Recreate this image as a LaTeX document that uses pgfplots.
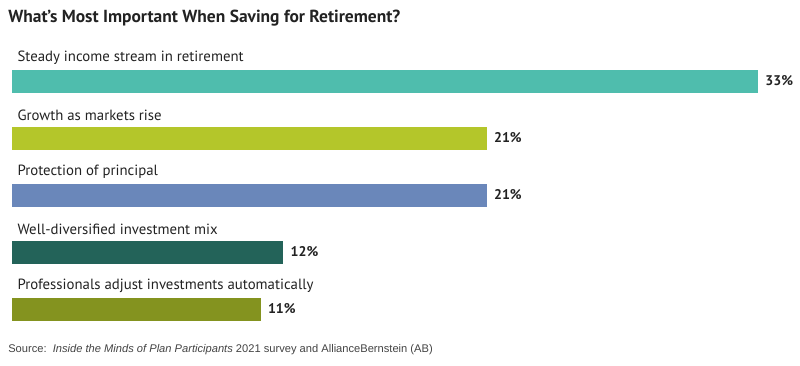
\documentclass[border=0pt]{standalone}
\usepackage{pgfplots}
\pgfplotsset{compat=1.18}
\usepackage{fontspec}
\setmainfont{PT Sans}
\newfontfamily\srcfont{Liberation Sans}
\definecolor{c1}{HTML}{4FBDAD}
\definecolor{c2}{HTML}{B4C62A}
\definecolor{c3}{HTML}{6A87BA}
\definecolor{c4}{HTML}{236359}
\definecolor{c5}{HTML}{84931F}
\definecolor{txt}{HTML}{222222}
\tikzset{lab/.style={anchor=west,font=\fontsize{11.1}{13}\selectfont,text=txt,inner sep=0,yshift=17.2pt,xshift=4pt}}
\begin{document}
\begin{tikzpicture}
\path[use as bounding box] (0,0) rectangle (600pt,273.75pt);
\node[anchor=west,font=\bfseries\fontsize{13.1}{16}\selectfont,text=txt,inner sep=0] at (6pt,260.25pt) {What’s Most Important When Saving for Retirement?};
\node[anchor=west,font=\srcfont\fontsize{8.35}{10}\selectfont,text=txt!85,inner sep=0] at (6pt,11.25pt) {Source:\ \ \textit{Inside the Minds of Plan Participants} 2021 survey and AllianceBernstein (AB)};
\begin{axis}[
  at={(9pt,234.375pt)}, anchor=north west,
  scale only axis, width=559.5pt, height=213.75pt,
  xmin=0, xmax=33, ymin=-0.5, ymax=4.5, y dir=reverse,
  hide axis, xbar, bar width=17.25pt, bar shift=0pt,
  /pgf/number format/assume math mode=true,
  nodes near coords={\pgfmathprintnumber{\pgfplotspointmeta}\%},
  every node near coord/.append style={font=\bfseries\fontsize{10.5}{12}\selectfont,text=txt,anchor=west,xshift=2pt},
  point meta=explicit,
  clip=false,
]
\addplot[fill=c1,draw=none] coordinates {(33,0) [33]};
\addplot[fill=c2,draw=none] coordinates {(21,1) [21]};
\addplot[fill=c3,draw=none] coordinates {(21,2) [21]};
\addplot[fill=c4,draw=none] coordinates {(12,3) [12]};
\addplot[fill=c5,draw=none] coordinates {(11,4) [11]};
\node[lab] at (axis cs:0,0) {Steady income stream in retirement};
\node[lab] at (axis cs:0,1) {Growth as markets rise};
\node[lab] at (axis cs:0,2) {Protection of principal};
\node[lab] at (axis cs:0,3) {Well-diversified investment mix};
\node[lab] at (axis cs:0,4) {Professionals adjust investments automatically};
\end{axis}
\end{tikzpicture}
\end{document}
